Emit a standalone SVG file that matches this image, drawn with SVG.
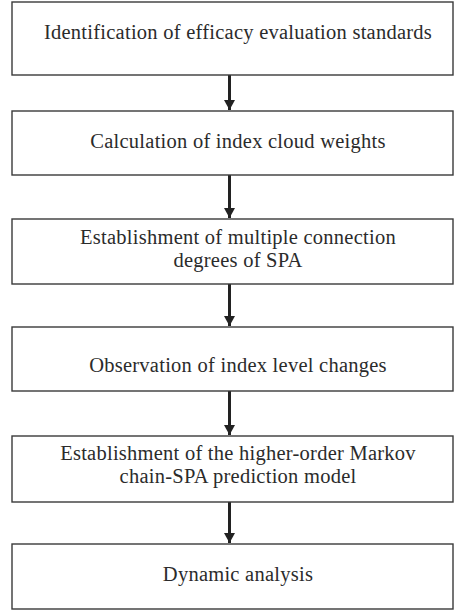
<svg xmlns="http://www.w3.org/2000/svg" width="455" height="612" viewBox="0 0 455 612">
  <style>
    .box { fill: #ffffff; stroke: #3a3a3a; stroke-width: 1.4; }
    .lbl { font-family: "Liberation Serif", "Times New Roman", serif; font-size: 20.5px; letter-spacing: 0.25px; fill: #2b2b2b; text-anchor: middle; }
    .edge { stroke: #222222; stroke-width: 3; fill: none; marker-end: url(#head); }
  </style>
  <defs>
    <marker id="head" markerUnits="userSpaceOnUse" markerWidth="11" markerHeight="11" refX="10" refY="5.5" orient="auto">
      <path d="M0,0 L10,5.5 L0,11 Z" fill="#222222"/>
    </marker>
  </defs>

  <g id="edges">
    <line class="edge" x1="229.5" y1="75" x2="229.5" y2="110"/>
    <line class="edge" x1="229.5" y1="175" x2="229.5" y2="218"/>
    <line class="edge" x1="229.5" y1="284" x2="229.5" y2="326"/>
    <line class="edge" x1="229.5" y1="391" x2="229.5" y2="435"/>
    <line class="edge" x1="229.5" y1="502" x2="229.5" y2="543"/>
  </g>

  <g id="step1">
    <rect class="box" x="12" y="2" width="441" height="73"/>
    <text class="lbl" x="238" y="39">Identification of efficacy evaluation standards</text>
  </g>
  <g id="step2">
    <rect class="box" x="12" y="111" width="441" height="64"/>
    <text class="lbl" x="238" y="148">Calculation of index cloud weights</text>
  </g>
  <g id="step3">
    <rect class="box" x="12" y="219" width="441" height="65"/>
    <text class="lbl" x="238" y="244">Establishment of multiple connection</text>
    <text class="lbl" x="238" y="267">degrees of SPA</text>
  </g>
  <g id="step4">
    <rect class="box" x="12" y="327" width="441" height="64"/>
    <text class="lbl" x="238" y="372">Observation of index level changes</text>
  </g>
  <g id="step5">
    <rect class="box" x="12" y="436" width="441" height="66"/>
    <text class="lbl" x="238" y="460">Establishment of the higher-order Markov</text>
    <text class="lbl" x="238" y="483">chain-SPA prediction model</text>
  </g>
  <g id="step6">
    <rect class="box" x="12" y="544" width="441" height="65"/>
    <text class="lbl" x="238" y="581">Dynamic analysis</text>
  </g>
</svg>
